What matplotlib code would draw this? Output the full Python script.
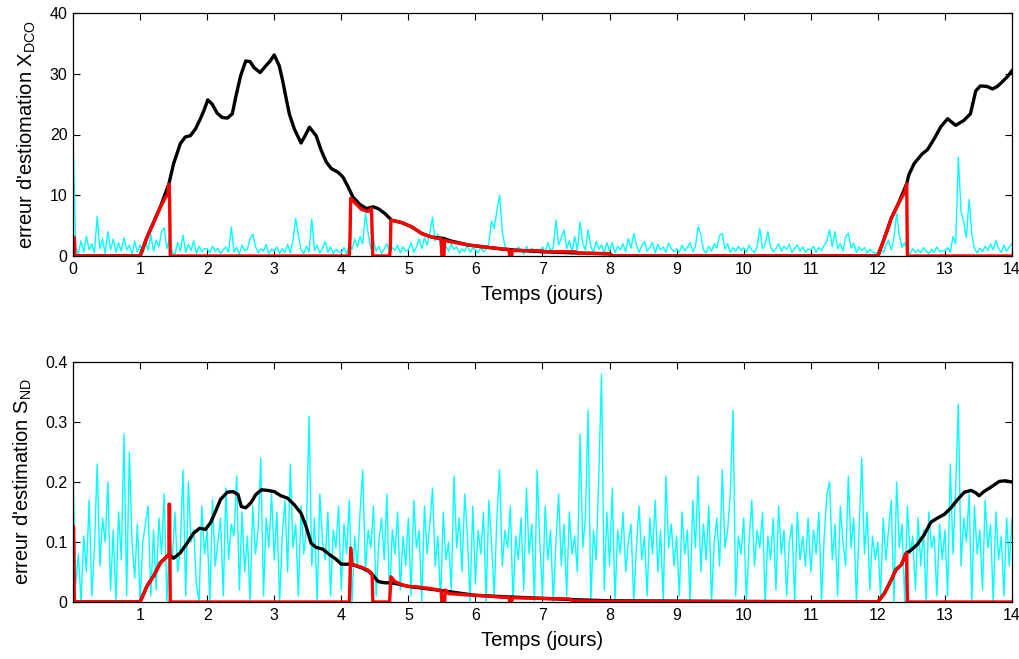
import numpy as np
import matplotlib
matplotlib.use("Agg")
import matplotlib.pyplot as plt

plt.rcParams['font.family'] = ['Liberation Sans', 'DejaVu Sans']

# time grid for the noisy (cyan) estimates: 0.04 day step, one row per day
t_noise = np.arange(351) * 0.04

cyan_top = [
    20.0, 1.5, 0.3, 2.5, 0.6, 3.2, 1.0, 2.0, 0.5, 6.5, 1.2, 2.8, 0.4, 4.0, 1.0, 2.8, 0.6, 2.2, 0.8, 3.0, 1.0, 1.8, 0.3, 2.4, 0.6,
    1.8, 0.4, 2.2, 1.0, 3.5, 0.8, 2.6, 1.5, 4.0, 4.6, 1.2, 3.0, 0.5, 0.3, 2.2, 0.8, 3.4, 0.6, 1.9, 0.9, 2.5, 0.4, 1.6, 0.7, 1.2,
    1.2, 0.5, 1.6, 0.8, 1.3, 0.4, 1.0, 1.5, 0.6, 4.8, 0.7, 1.4, 0.3, 1.8, 0.9, 1.1, 2.9, 3.6, 1.6, 0.5, 1.2, 0.8, 1.9, 0.4, 1.1,
    0.8, 1.5, 0.4, 1.2, 0.6, 1.9, 0.5, 2.6, 6.2, 3.4, 1.0, 0.4, 1.6, 0.7, 6.1, 0.9, 1.8, 0.5, 1.3, 2.4, 0.6, 1.5, 0.4, 1.1, 0.7,
    0.5, 1.4, 0.3, 2.0, 1.1, 2.8, 1.5, 3.2, 2.0, 7.0, 3.8, 1.2, 2.6, 0.8, 1.6, 0.4, 1.2, 2.0, 0.6, 1.4, 0.9, 1.8, 0.5, 1.5, 0.8,
    1.0, 2.2, 0.6, 1.5, 2.8, 1.2, 3.0, 1.8, 3.8, 6.4, 2.5, 3.6, 1.4, 0.6, 1.6, 0.8, 2.0, 1.1, 1.5, 0.5, 1.2, 0.7, 1.8, 0.6, 1.3,
    1.0, 0.5, 1.4, 0.7, 1.1, 2.0, 5.8, 4.5, 7.5, 10.0, 4.0, 1.6, 0.8, 0.4, 1.2, 0.6, 1.5, 0.9, 0.3, 1.6, 0.8, 1.3, 0.5, 1.0, 0.7,
    1.5, 0.6, 2.2, 0.8, 1.4, 5.9, 1.8, 3.0, 4.3, 1.2, 2.5, 0.7, 3.2, 1.0, 5.6, 2.0, 1.0, 4.3, 1.6, 0.6, 2.4, 1.1, 1.8, 0.5, 2.2,
    0.8, 2.2, 0.5, 1.6, 1.0, 2.0, 0.7, 2.9, 1.3, 3.7, 1.8, 0.6, 1.7, 2.4, 0.8, 1.4, 2.2, 0.5, 1.9, 1.0, 1.5, 0.6, 2.1, 1.2, 0.7,
    1.2, 0.6, 1.8, 0.9, 1.4, 2.2, 0.7, 1.5, 4.8, 3.6, 1.0, 0.5, 1.6, 0.8, 2.0, 1.3, 3.4, 3.7, 1.1, 2.0, 0.6, 1.4, 0.8, 1.6, 0.9,
    1.4, 0.6, 1.8, 1.0, 0.5, 1.6, 4.5, 1.2, 2.0, 4.0, 1.5, 0.7, 1.2, 2.0, 0.8, 1.6, 1.1, 1.9, 0.6, 1.3, 1.8, 0.8, 1.5, 0.6, 1.2,
    1.0, 1.6, 0.6, 1.4, 0.9, 1.8, 2.5, 4.3, 1.5, 4.0, 1.2, 2.0, 0.8, 3.2, 3.7, 1.3, 2.1, 0.6, 1.5, 0.9, 1.4, 0.5, 1.1, 0.7, 0.4,
    0.6, 1.2, 0.5, 1.8, 2.6, 1.0, 3.0, 7.0, 3.5, 1.4, 2.2, 0.7, 0.4, 1.2, 0.6, 1.0, 0.5, 1.4, 0.8, 0.4, 1.1, 0.6, 1.5, 0.7, 0.9,
    0.8, 1.4, 0.6, 3.2, 2.0, 16.2, 7.3, 5.6, 3.0, 9.3, 3.7, 1.2, 0.5, 1.3, 0.7, 1.6, 0.9, 2.0, 1.0, 2.5, 1.2, 0.6, 1.8, 0.8, 1.5,
    2.0,
]

cyan_bot = [
    0.21, 0.03, 0.08, 0.00, 0.11, 0.05, 0.17, 0.01, 0.09, 0.23, 0.06, 0.14, 0.10, 0.20, 0.02, 0.12, 0.00, 0.15, 0.07, 0.28, 0.01, 0.25, 0.10, 0.04, 0.13,
    0.00, 0.10, 0.13, 0.16, 0.01, 0.12, 0.02, 0.14, 0.08, 0.18, 0.00, 0.11, 0.07, 0.15, 0.05, 0.09, 0.22, 0.01, 0.20, 0.10, 0.12, 0.03, 0.00, 0.16, 0.08,
    0.12, 0.00, 0.17, 0.06, 0.10, 0.14, 0.01, 0.19, 0.07, 0.13, 0.11, 0.21, 0.02, 0.15, 0.05, 0.11, 0.00, 0.16, 0.08, 0.12, 0.24, 0.01, 0.14, 0.09, 0.18,
    0.07, 0.15, 0.00, 0.11, 0.17, 0.05, 0.23, 0.09, 0.13, 0.01, 0.16, 0.08, 0.12, 0.31, 0.06, 0.14, 0.00, 0.18, 0.10, 0.07, 0.15, 0.01, 0.12, 0.09, 0.16,
    0.02, 0.13, 0.08, 0.17, 0.00, 0.11, 0.06, 0.15, 0.22, 0.05, 0.12, 0.09, 0.16, 0.01, 0.10, 0.14, 0.07, 0.18, 0.00, 0.12, 0.08, 0.15, 0.02, 0.11, 0.06,
    0.14, 0.01, 0.17, 0.09, 0.12, 0.00, 0.16, 0.08, 0.13, 0.19, 0.06, 0.11, 0.00, 0.15, 0.07, 0.10, 0.02, 0.21, 0.09, 0.14, 0.05, 0.18, 0.11, 0.00, 0.16,
    0.03, 0.12, 0.08, 0.15, 0.00, 0.17, 0.10, 0.01, 0.14, 0.22, 0.06, 0.12, 0.09, 0.16, 0.00, 0.11, 0.07, 0.14, 0.02, 0.19, 0.08, 0.13, 0.00, 0.22, 0.10,
    0.01, 0.16, 0.07, 0.12, 0.00, 0.10, 0.18, 0.06, 0.13, 0.01, 0.15, 0.08, 0.11, 0.05, 0.28, 0.09, 0.14, 0.32, 0.00, 0.12, 0.07, 0.21, 0.38, 0.02, 0.15,
    0.06, 0.19, 0.00, 0.12, 0.08, 0.15, 0.05, 0.10, 0.13, 0.00, 0.09, 0.16, 0.07, 0.11, 0.01, 0.14, 0.08, 0.17, 0.05, 0.12, 0.00, 0.21, 0.09, 0.13, 0.06,
    0.11, 0.01, 0.15, 0.08, 0.12, 0.00, 0.17, 0.09, 0.21, 0.05, 0.13, 0.07, 0.16, 0.00, 0.10, 0.14, 0.06, 0.22, 0.09, 0.12, 0.18, 0.32, 0.01, 0.11, 0.08,
    0.14, 0.00, 0.10, 0.17, 0.06, 0.12, 0.09, 0.15, 0.00, 0.11, 0.07, 0.14, 0.02, 0.16, 0.08, 0.12, 0.01, 0.10, 0.13, 0.00, 0.15, 0.07, 0.11, 0.06, 0.14,
    0.05, 0.12, 0.08, 0.15, 0.00, 0.11, 0.18, 0.20, 0.07, 0.13, 0.01, 0.16, 0.10, 0.06, 0.21, 0.09, 0.14, 0.00, 0.12, 0.24, 0.08, 0.15, 0.02, 0.11, 0.07,
    0.10, 0.01, 0.14, 0.07, 0.12, 0.17, 0.00, 0.20, 0.09, 0.13, 0.00, 0.16, 0.08, 0.11, 0.02, 0.14, 0.06, 0.12, 0.00, 0.15, 0.09, 0.11, 0.01, 0.13, 0.07,
    0.12, 0.01, 0.23, 0.08, 0.19, 0.33, 0.06, 0.14, 0.10, 0.18, 0.00, 0.16, 0.08, 0.12, 0.02, 0.17, 0.09, 0.13, 0.00, 0.15, 0.07, 0.11, 0.01, 0.14, 0.06,
    0.14,
]

# black: estimate without reinitialisation (X_DCO)
black_top_t = [0, 1.0, 1.1, 1.2, 1.3, 1.43, 1.5, 1.6, 1.675, 1.75, 1.825, 1.9, 1.95, 2.01, 2.075, 2.15, 2.225, 2.3,
               2.375, 2.425, 2.5, 2.575, 2.64, 2.7, 2.79, 2.875, 2.94, 3.0, 3.075, 3.125, 3.175, 3.225, 3.3, 3.4,
               3.46, 3.525, 3.625, 3.7, 3.775, 3.85, 3.95, 4.025, 4.1, 4.175, 4.275, 4.375, 4.475, 4.55, 4.65, 4.75,
               4.9, 5.05, 5.2, 5.35, 5.525, 5.625, 5.9, 6.2, 6.4, 6.55, 7.0, 7.5, 8.0, 8.05, 12.0, 12.1, 12.2, 12.3,
               12.43, 12.46, 12.54, 12.66, 12.74, 12.84, 12.94, 13.04, 13.16, 13.28, 13.38, 13.46, 13.53, 13.63, 13.71,
               13.78, 13.83, 13.93, 14.0]
black_top_v = [0, 0, 3.0, 5.5, 8.0, 11.9, 15.2, 18.5, 19.6, 19.8, 20.9, 22.6, 23.9, 25.7, 25.0, 23.5, 22.8, 22.7,
               23.4, 26.1, 29.7, 32.1, 32.0, 31.0, 30.2, 31.3, 32.1, 33.1, 31.3, 28.9, 26.1, 23.4, 20.9, 18.6,
               19.8, 21.2, 19.8, 17.4, 15.5, 14.4, 13.8, 13.0, 11.4, 9.7, 8.5, 7.8, 8.1, 7.8, 7.0, 5.9,
               5.5, 4.8, 3.7, 3.1, 2.9, 2.5, 1.8, 1.4, 1.15, 1.0, 0.7, 0.5, 0.35, 0, 0, 3.0, 6.2, 8.5,
               11.9, 13.3, 15.2, 16.8, 17.5, 19.3, 21.3, 22.6, 21.5, 22.3, 23.4, 27.2, 28.0, 27.9, 27.5,
               27.9, 28.4, 29.5, 30.5]

# red: estimate with reinitialisation (X_DCO)
red_top_t = [0, 0.02, 0.03, 1.0, 1.1, 1.2, 1.3, 1.38, 1.41, 1.43, 1.44, 1.45, 4.12, 4.13, 4.14, 4.2, 4.3, 4.4,
             4.45, 4.47, 4.72, 4.73, 4.74, 4.9, 5.05, 5.2, 5.35, 5.49, 5.5, 5.53, 5.54, 5.6, 5.9, 6.2, 6.4, 6.5,
             6.51, 6.54, 6.55, 7.0, 7.02, 7.5, 7.52, 8.0, 8.02, 12.0, 12.1, 12.2, 12.3, 12.4, 12.43, 12.44, 14.0]
red_top_v = [3.2, 3.0, 0, 0, 3.0, 5.5, 8.0, 9.7, 10.0, 11.8, 9.5, 0, 0, 2.8, 9.5, 8.8, 7.7, 7.3,
             7.8, 0, 0, 1.0, 5.9, 5.5, 4.8, 3.7, 3.1, 2.8, 0, 0, 2.6, 2.4, 1.8, 1.4, 1.15, 1.1,
             0, 0, 0.9, 0.85, 0.7, 0.7, 0.45, 0.4, 0, 0, 3.0, 6.2, 8.5, 10.5, 11.9, 0, 0]

# black: S_ND without reinitialisation
black_bot_t = [0, 1.0, 1.1, 1.2, 1.3, 1.4, 1.43, 1.5, 1.6, 1.7, 1.8, 1.89, 1.975, 2.05, 2.125, 2.2, 2.3, 2.385,
               2.46, 2.51, 2.575, 2.65, 2.725, 2.81, 2.9, 3.0, 3.1, 3.2, 3.3, 3.4, 3.475, 3.55, 3.625, 3.725,
               3.825, 3.925, 4.0, 4.125, 4.2, 4.3, 4.4, 4.47, 4.55, 4.65, 4.72, 4.8, 5.0, 5.5, 6.0, 7.0, 7.45,
               8.0, 12.0, 12.1, 12.2, 12.27, 12.35, 12.42, 12.49, 12.59, 12.69, 12.79, 12.89, 12.99, 13.09,
               13.19, 13.29, 13.39, 13.46, 13.51, 13.58, 13.68, 13.81, 13.9, 14.0]
black_bot_v = [0, 0, 0.026, 0.043, 0.065, 0.076, 0.079, 0.073, 0.082, 0.098, 0.115, 0.123, 0.121, 0.132, 0.151, 0.171,
               0.183, 0.184, 0.179, 0.159, 0.157, 0.165, 0.179, 0.187, 0.186, 0.184, 0.177, 0.173, 0.162, 0.148,
               0.126, 0.098, 0.091, 0.088, 0.079, 0.071, 0.063, 0.063, 0.061, 0.057, 0.052, 0.045, 0.034, 0.032,
               0.032, 0.031, 0.026, 0.019, 0.011, 0.006, 0.004, 0.002, 0, 0.015, 0.037, 0.054, 0.062, 0.081,
               0.086, 0.096, 0.112, 0.133, 0.14, 0.146, 0.157, 0.171, 0.183, 0.186, 0.182, 0.177, 0.184, 0.191,
               0.201, 0.202, 0.2]

# red: S_ND with reinitialisation
red_bot_t = [0, 0.01, 0.02, 1.0, 1.1, 1.2, 1.3, 1.4, 1.43, 1.431, 1.44, 1.45, 4.12, 4.13, 4.14, 4.16, 4.3, 4.4,
             4.46, 4.47, 4.72, 4.73, 4.74, 4.8, 4.9, 5.0, 5.15, 5.35, 5.49, 5.5, 5.54, 5.55, 5.6, 5.85, 6.05,
             6.4, 6.5, 6.51, 6.54, 6.55, 6.7, 7.4, 7.45, 8.0, 12.0, 12.1, 12.2, 12.27, 12.35, 12.42, 12.43, 12.44, 14.0]
red_bot_v = [0.127, 0.125, 0, 0, 0.026, 0.043, 0.065, 0.076, 0.079, 0.163, 0.163, 0, 0, 0.04, 0.09, 0.063, 0.058, 0.053,
             0.047, 0, 0, 0.02, 0.042, 0.034, 0.029, 0.026, 0.025, 0.022, 0.019, 0, 0, 0.02, 0.014, 0.012, 0.011,
             0.008, 0.008, 0, 0, 0.007, 0.0067, 0.005, 0.002, 0.001, 0, 0.015, 0.037, 0.054, 0.062, 0.081, 0.081, 0, 0]

fig = plt.figure(figsize=(10.2, 6.59), dpi=100)
ax1 = fig.add_axes([73 / 1020, 1 - 256 / 659, 939 / 1020, 243 / 659])
ax2 = fig.add_axes([73 / 1020, 1 - 602 / 659, 939 / 1020, 240 / 659])

for ax, cyan, bt, bv, rt, rv in [(ax1, cyan_top, black_top_t, black_top_v, red_top_t, red_top_v),
                                 (ax2, cyan_bot, black_bot_t, black_bot_v, red_bot_t, red_bot_v)]:
    ax.plot(t_noise, cyan, color='#00ffff', lw=1.0)
    ax.plot(bt, bv, color='black', lw=2.4)
    ax.plot(rt, rv, color='#ff0000', lw=2.4)
    ax.set_xlim(0, 14)
    ax.tick_params(direction='in', top=True, right=True, length=5, labelsize=11.5, pad=4)
    for s in ax.spines.values():
        s.set_linewidth(0.9)
    ax.set_xlabel('Temps (jours)', fontsize=14.5, labelpad=6)

ax1.set_ylim(0, 40)
ax1.set_yticks([0, 10, 20, 30, 40])
ax1.set_xticks(range(0, 15))
ax1.set_ylabel("erreur d'estiomation X$_{\\mathregular{DCO}}$", fontsize=14.5, labelpad=8)

ax2.set_ylim(0, 0.4)
ax2.set_yticks([0, 0.1, 0.2, 0.3, 0.4])
ax2.set_yticklabels(['0', '0.1', '0.2', '0.3', '0.4'])
ax2.set_xticks(range(1, 15))
ax2.set_ylabel("erreur d'estimation S$_{\\mathregular{ND}}$", fontsize=14.5, labelpad=8)

fig.savefig('out.png', dpi=100)
